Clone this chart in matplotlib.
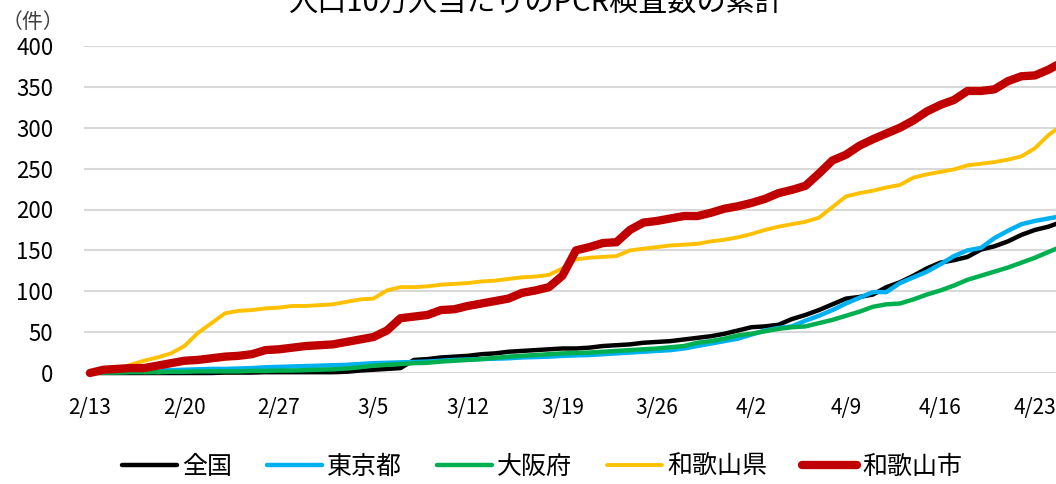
import matplotlib
matplotlib.use("Agg")
import matplotlib.pyplot as plt
import numpy as np

plt.rcParams['font.family'] = ['Noto Sans CJK JP', 'DejaVu Sans']

# 2/13 から 4/25 までの日ごとの累計（人口10万人当たり）
tick_labels = ["2/13", "2/20", "2/27", "3/5", "3/12", "3/19", "3/26",
               "4/2", "4/9", "4/16", "4/23"]

zenkoku = [0, 0, 0, 0, 0, 0, 0, 0, 0, 0, 0.5, 0.5, 0.5, 1, 1, 1, 1, 1, 1, 1.5,
           3, 4, 5, 6, 16, 17, 19, 20, 21, 23, 24, 26, 27, 28, 29, 30, 30, 31,
           33, 34, 35, 37, 38, 39, 41, 43, 45, 48, 52, 56, 57, 59, 66, 71, 77,
           84, 91, 93, 96, 105, 111, 119, 128, 135, 138, 142, 151, 155, 161,
           169, 175, 179, 185]
tokyo = [0, 1, 1.5, 2, 2.5, 3, 3.5, 4, 4.5, 5, 5, 5.5, 6, 7, 7.5, 8, 8.5, 9,
         9.5, 10, 11, 12, 12.5, 13, 13.5, 14, 15, 16, 16.5, 17, 17.5, 18, 19,
         19.5, 20, 21, 21.5, 22, 23, 24, 25, 26, 27, 28, 30, 33, 36, 39, 42,
         47, 52, 55, 57, 64, 70, 77, 85, 92, 99, 99, 110, 117, 124, 133, 143,
         150, 153, 165, 174, 182, 186, 189, 192]
osaka = [0, 0.5, 0.5, 1, 1, 1, 1.5, 1.5, 2, 2, 2, 2, 2.5, 2.5, 3, 3, 3.5, 4,
         4.5, 5.5, 7, 9, 10, 11, 12, 12.5, 14, 15, 16, 17, 18.5, 20, 21, 22,
         23, 24, 24.5, 25, 26, 27, 28, 29, 30, 31.5, 33, 37, 39, 42, 46, 48,
         51, 54, 56, 57, 61, 65, 70, 75, 81, 84, 85, 90, 96, 101, 107, 114,
         119, 124, 129, 135, 141, 148, 155]
wakayama_ken = [0, 2, 5, 10, 15, 19, 24, 33, 49, 61, 73, 76, 77, 79, 80, 82,
                82, 83, 84, 87, 90, 91, 101, 105, 105, 106, 108, 109, 110, 112,
                113, 115, 117, 118, 120, 128, 139, 141, 142, 143, 150, 152,
                154, 156, 157, 158, 161, 163, 166, 170, 175, 179, 182, 185,
                190, 203, 216, 220, 223, 227, 230, 239, 243, 246, 249, 254,
                256, 258, 261, 265, 275, 291, 303]
wakayama_shi = [0, 4, 5, 6, 6, 9, 12, 15, 16, 18, 20, 21, 23, 28, 29, 31, 33,
                34, 35, 38, 41, 44, 52, 67, 69, 71, 77, 78, 82, 85, 88, 91, 98,
                101, 105, 119, 150, 154, 159, 160, 175, 184, 186, 189, 192,
                192, 196, 201, 204, 208, 213, 220, 224, 229, 244, 260, 267,
                278, 286, 293, 300, 309, 320, 328, 334, 345, 345, 347, 357,
                363, 364, 371, 380]

names = ["全国", "東京都", "大阪府", "和歌山県", "和歌山市"]
colors = ["#000000", "#00B0F0", "#00B050", "#FFC000", "#C00000"]
widths = [3.2, 3.2, 3.2, 2.8, 6.0]


def main():
    fig = plt.figure(figsize=(10.56, 4.84), dpi=100)
    ax = fig.add_axes([84 / 1056, 1 - 373 / 484, 1 - 84 / 1056, 327 / 484])
    days = np.arange(len(zenkoku))
    series = [zenkoku, tokyo, osaka, wakayama_ken, wakayama_shi]
    for s, n, c, w in zip(series, names, colors, widths):
        ax.plot(days, s, color=c, lw=w, label=n, clip_on=False,
                solid_capstyle="round", solid_joinstyle="round")

    ax.set_ylim(0, 400)
    ax.set_yticks(np.arange(0, 401, 50))
    ax.set_xlim(-0.44, 71.56)
    ax.set_xticks(np.arange(0, 71, 7))
    ax.set_xticklabels(tick_labels)
    ax.grid(axis="y", color="#d9d9d9", lw=1.5)
    ax.set_axisbelow(True)
    for sp in ax.spines.values():
        sp.set_visible(False)
    ax.tick_params(axis="y", length=0, pad=22, labelsize=16)
    ax.tick_params(axis="x", length=0, pad=17, labelsize=15)

    fig.text(0.001, 1 - 22 / 484, "（件）", fontsize=15, va="center",
             ha="left", color="#404040")
    # タイトルは元の図と同じく上端で切れている
    fig.text(536 / 1056, 1 - 12 / 484, "人口10万人当たりのPCR検査数の累計",
             fontsize=21, ha="center", va="baseline")

    ax.legend(loc="center", bbox_to_anchor=(542 / 1056, 1 - 467 / 484),
              bbox_transform=fig.transFigure, ncol=5, frameon=False,
              fontsize=18, handlelength=2.2, handletextpad=0.2,
              columnspacing=1.4)

    fig.savefig("out.png", dpi=100)


if __name__ == '__main__':
    main()
